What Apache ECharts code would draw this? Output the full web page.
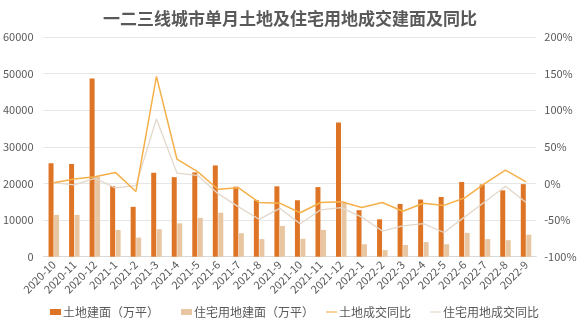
<!DOCTYPE html>
<html>
<head>
<meta charset="utf-8">
<script src="https://cdn.jsdelivr.net/npm/echarts@6/dist/echarts.min.js"></script>
<style>html,body{margin:0;padding:0;background:#fff;}#c{width:580px;height:326px;}</style>
</head>
<body>
<div id="c"></div>
<script>
var categories = ['2020-10','2020-11','2020-12','2021-1','2021-2','2021-3','2021-4','2021-5','2021-6','2021-7','2021-8','2021-9','2021-10','2021-11','2021-12','2022-1','2022-2','2022-3','2022-4','2022-5','2022-6','2022-7','2022-8','2022-9'];
var landArea = [25500,25300,48600,19300,13600,22900,21700,23000,24900,19100,15400,19200,15400,19000,36600,12700,10200,14400,15600,16300,20400,19700,18100,19800];
var resArea = [11400,11400,21800,7300,5200,7500,9100,10600,12000,6400,4800,8400,4900,7300,15000,3400,1800,3200,4000,3400,6500,4800,4500,6000];
var landYoY = [1,6,9,15,-11,146,33,16,-8,-6,-26,-27,-40,-26,-25,-33,-26,-38,-27,-30,-20,0,18,2];
var resYoY = [1,-2,7,-6,-3,88,14,11,-14,-32,-49,-34,-55,-36,-33,-46,-65,-58,-55,-67,-46,-25,-4,-26];
var seriesNames = ['土地建面（万平）','住宅用地建面（万平）','土地成交同比','住宅用地成交同比'];
var leftTicks = {min:0, max:60000, interval:10000};
var rightTicks = {min:-100, max:200, interval:50};

var chart = echarts.init(document.getElementById('c'), null, {renderer:'canvas'});
var txt = '#595959';
var font = '"Noto Sans CJK SC","Noto Sans",sans-serif';
var lineIcon = 'path://M0,0 L20,0 L20,2 L0,2 Z';
var legendLefts = [45, 176, 321, 425];
var legendIcons = ['rect','rect',lineIcon,lineIcon];
var legends = seriesNames.map(function(n, i){
  return {bottom:3, left:legendLefts[i], itemWidth:11, itemHeight:i<2?6:6,
    textStyle:{fontSize:12, color:txt, fontFamily:font, padding:[0,0,0,-3]},
    data:[{name:n, icon:legendIcons[i]}]};
});
chart.setOption({
  animation:false,
  textStyle:{fontFamily:font},
  title:{text:'一二三线城市单月土地及住宅用地成交建面及同比', left:'center', top:5,
    textStyle:{fontSize:17, fontWeight:'bold', color:'#595959', fontFamily:font}},
  grid:{left:43.5, right:43.7, top:36.8, bottom:69.3},
  legend:legends,
  xAxis:{type:'category', data:categories,
    axisLine:{lineStyle:{color:'#D9D9D9'}}, axisTick:{show:false},
    axisLabel:{rotate:45, interval:0, fontSize:11, color:txt, margin:6, fontFamily:font}},
  yAxis:[
    {type:'value', min:leftTicks.min, max:leftTicks.max, interval:leftTicks.interval,
     axisLine:{show:false}, axisTick:{show:false},
     axisLabel:{fontSize:11, color:txt, margin:10, fontFamily:font, formatter:function(v){return String(v);}},
     splitLine:{lineStyle:{color:'#E6E6E6'}}},
    {type:'value', min:rightTicks.min, max:rightTicks.max, interval:rightTicks.interval,
     axisLine:{show:false}, axisTick:{show:false},
     axisLabel:{fontSize:11, color:txt, margin:8, formatter:'{value}%', fontFamily:font},
     splitLine:{show:false}}
  ],
  series:[
    {name:seriesNames[0], type:'bar', data:landArea, barWidth:5, barGap:'10%', itemStyle:{color:'#DE7526'}},
    {name:seriesNames[1], type:'bar', data:resArea, barWidth:5, barGap:'10%', itemStyle:{color:'#E8C6A2'}},
    {name:seriesNames[2], type:'line', yAxisIndex:1, data:landYoY, symbol:'none', z:5,
      lineStyle:{color:'#F5B04A', width:1.5}, itemStyle:{color:'#F5B04A'}},
    {name:seriesNames[3], type:'line', yAxisIndex:1, data:resYoY, symbol:'none', z:4,
      lineStyle:{color:'#E3D7CA', width:1.3}, itemStyle:{color:'#E3D7CA'}}
  ]
});
</script>
</body>
</html>
